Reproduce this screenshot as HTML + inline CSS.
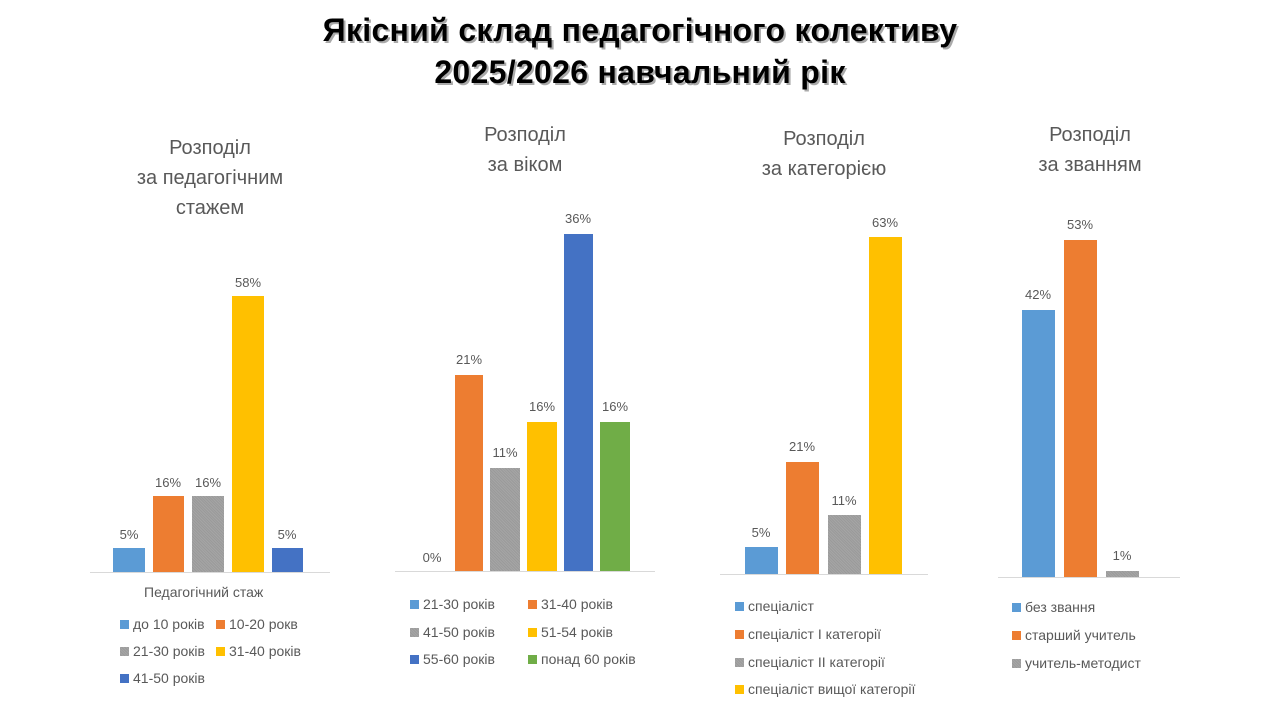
<!DOCTYPE html>
<html><head><meta charset="utf-8"><style>
body{margin:0;width:1280px;height:720px;background:#fff;position:relative;overflow:hidden;font-family:"Liberation Sans",sans-serif;color:#595959}
.t{position:absolute;left:0;width:1280px;text-align:center;font-weight:bold;font-size:32px;color:#000;letter-spacing:0.3px;text-shadow:2px 2px 0 #aaa,-1px -1px 0 #fff}
.st{position:absolute;text-align:center;font-size:20px;line-height:30px;color:#595959}
.b{position:absolute}
.l{position:absolute;font-size:13px;width:40px;text-align:center}
.ax{position:absolute;height:1px;background:#d9d9d9}
.lg{position:absolute;font-size:14px;white-space:nowrap}
.lg i{display:inline-block;width:9px;height:9px;margin-right:4px;vertical-align:0}
.g{background:repeating-linear-gradient(45deg,#a5a5a5 0 1px,#9a9a9a 1px 2px)}
</style></head><body>
<div class="t" style="top:12px">Якісний склад педагогічного колективу</div>
<div class="t" style="top:54px">2025/2026 навчальний рік</div>

<div class="st" style="left:90px;width:240px;top:133px">Розподіл<br>за педагогічним<br>стажем</div>
<div class="st" style="left:395px;width:260px;top:120px">Розподіл<br>за віком</div>
<div class="st" style="left:720px;width:208px;top:124px">Розподіл<br>за категорією</div>
<div class="st" style="left:990px;width:200px;top:120px">Розподіл<br>за званням</div>

<!-- chart 1 -->
<div class="ax" style="left:90px;width:240px;top:572px"></div>
<div class="b" style="left:113px;width:32px;top:548px;height:24px;background:#5B9BD5"></div>
<div class="b" style="left:153px;width:31px;top:496px;height:76px;background:#ED7D31"></div>
<div class="b g" style="left:192px;width:32px;top:496px;height:76px"></div>
<div class="b" style="left:232px;width:32px;top:296px;height:276px;background:#FFC000"></div>
<div class="b" style="left:272px;width:31px;top:548px;height:24px;background:#4472C4"></div>
<div class="l" style="left:109px;top:527px">5%</div>
<div class="l" style="left:148px;top:475px">16%</div>
<div class="l" style="left:188px;top:475px">16%</div>
<div class="l" style="left:228px;top:275px">58%</div>
<div class="l" style="left:267px;top:527px">5%</div>
<div class="lg" style="left:144px;top:584px">Педагогічний стаж</div>
<div class="lg" style="left:120px;top:616px"><i style="background:#5B9BD5"></i>до 10 років</div>
<div class="lg" style="left:216px;top:616px"><i style="background:#ED7D31"></i>10-20 рокв</div>
<div class="lg" style="left:120px;top:643px"><i class="g"></i>21-30 років</div>
<div class="lg" style="left:216px;top:643px"><i style="background:#FFC000"></i>31-40 років</div>
<div class="lg" style="left:120px;top:670px"><i style="background:#4472C4"></i>41-50 років</div>

<!-- chart 2 -->
<div class="ax" style="left:395px;width:260px;top:571px"></div>
<div class="b" style="left:455px;width:28px;top:375px;height:196px;background:#ED7D31"></div>
<div class="b g" style="left:490px;width:30px;top:468px;height:103px"></div>
<div class="b" style="left:527px;width:30px;top:422px;height:149px;background:#FFC000"></div>
<div class="b" style="left:564px;width:29px;top:234px;height:337px;background:#4472C4"></div>
<div class="b" style="left:600px;width:30px;top:422px;height:149px;background:#70AD47"></div>
<div class="l" style="left:412px;top:550px">0%</div>
<div class="l" style="left:449px;top:352px">21%</div>
<div class="l" style="left:485px;top:445px">11%</div>
<div class="l" style="left:522px;top:399px">16%</div>
<div class="l" style="left:558px;top:211px">36%</div>
<div class="l" style="left:595px;top:399px">16%</div>
<div class="lg" style="left:410px;top:596px"><i style="background:#5B9BD5"></i>21-30 років</div>
<div class="lg" style="left:528px;top:596px"><i style="background:#ED7D31"></i>31-40 років</div>
<div class="lg" style="left:410px;top:624px"><i class="g"></i>41-50 років</div>
<div class="lg" style="left:528px;top:624px"><i style="background:#FFC000"></i>51-54 років</div>
<div class="lg" style="left:410px;top:651px"><i style="background:#4472C4"></i>55-60 років</div>
<div class="lg" style="left:528px;top:651px"><i style="background:#70AD47"></i>понад 60 років</div>

<!-- chart 3 -->
<div class="ax" style="left:720px;width:208px;top:574px"></div>
<div class="b" style="left:745px;width:33px;top:547px;height:27px;background:#5B9BD5"></div>
<div class="b" style="left:786px;width:33px;top:462px;height:112px;background:#ED7D31"></div>
<div class="b g" style="left:828px;width:33px;top:515px;height:59px"></div>
<div class="b" style="left:869px;width:33px;top:237px;height:337px;background:#FFC000"></div>
<div class="l" style="left:741px;top:525px">5%</div>
<div class="l" style="left:782px;top:439px">21%</div>
<div class="l" style="left:824px;top:493px">11%</div>
<div class="l" style="left:865px;top:215px">63%</div>
<div class="lg" style="left:735px;top:598px"><i style="background:#5B9BD5"></i>спеціаліст</div>
<div class="lg" style="left:735px;top:626px"><i style="background:#ED7D31"></i>спеціаліст І категорії</div>
<div class="lg" style="left:735px;top:654px"><i class="g"></i>спеціаліст ІІ категорії</div>
<div class="lg" style="left:735px;top:681px"><i style="background:#FFC000"></i>спеціаліст вищої категорії</div>

<!-- chart 4 -->
<div class="ax" style="left:998px;width:182px;top:577px"></div>
<div class="b" style="left:1022px;width:33px;top:310px;height:267px;background:#5B9BD5"></div>
<div class="b" style="left:1064px;width:33px;top:240px;height:337px;background:#ED7D31"></div>
<div class="b g" style="left:1106px;width:33px;top:571px;height:6px"></div>
<div class="l" style="left:1018px;top:287px">42%</div>
<div class="l" style="left:1060px;top:217px">53%</div>
<div class="l" style="left:1102px;top:548px">1%</div>
<div class="lg" style="left:1012px;top:599px"><i style="background:#5B9BD5"></i>без звання</div>
<div class="lg" style="left:1012px;top:627px"><i style="background:#ED7D31"></i>старший учитель</div>
<div class="lg" style="left:1012px;top:655px"><i class="g"></i>учитель-методист</div>
</body></html>
